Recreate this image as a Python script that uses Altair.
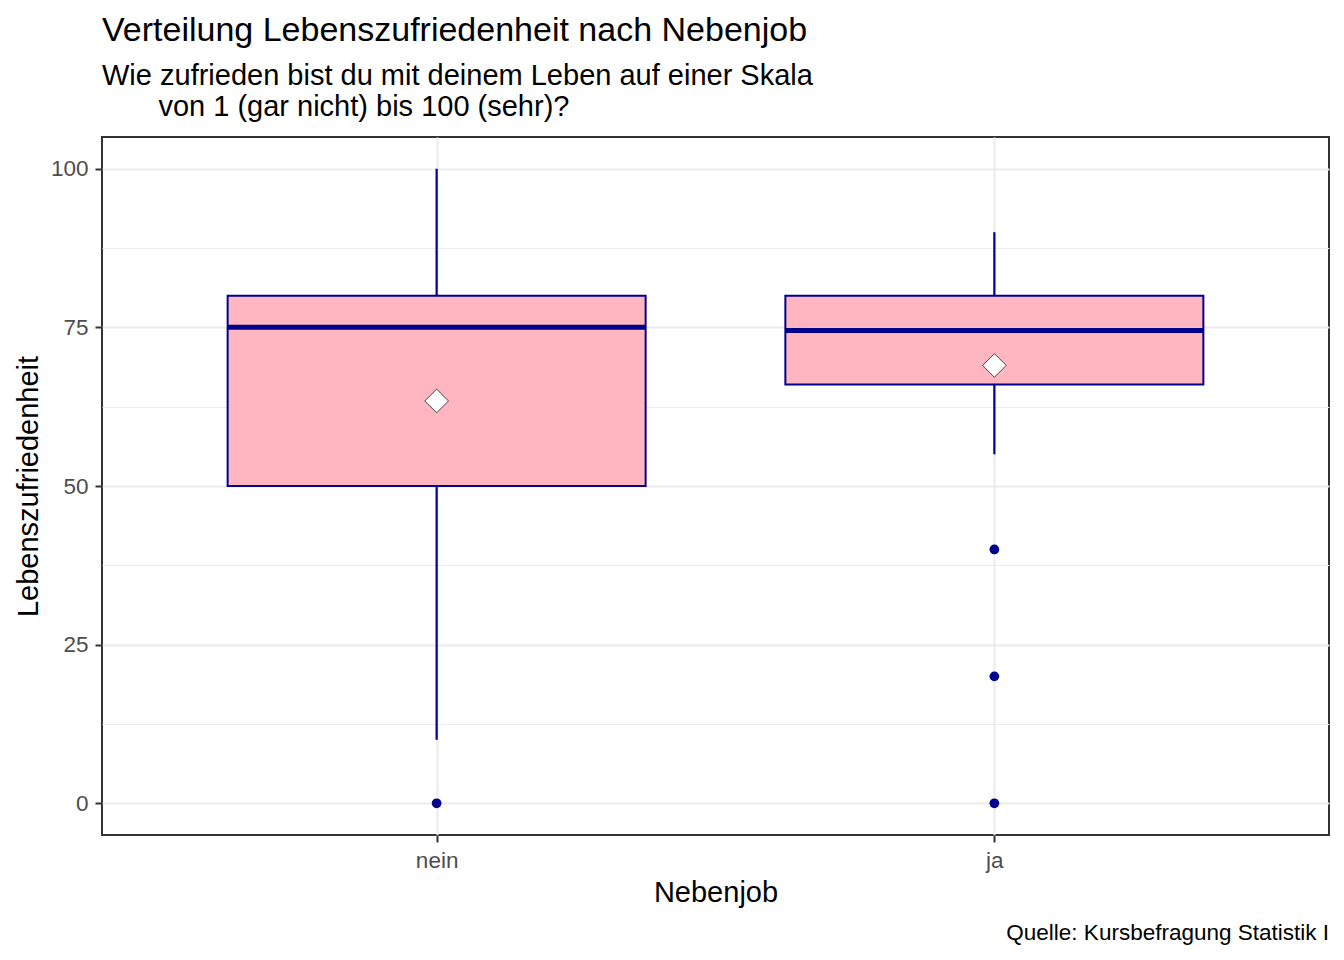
import altair as alt
import pandas as pd

# ---- data ----
groups = ["nein", "ja"]
whisker_low = [10, 55]
q1 = [50, 66]
median = [75, 74.5]
q3 = [80, 80]
whisker_high = [100, 90]
means = [63.4, 69.0]

outlier_group = ["nein", "ja", "ja", "ja"]
outlier_value = [0, 40, 20, 0]

y_ticks = [0, 12.5, 25, 37.5, 50, 62.5, 75, 87.5, 100]

title_text = "Verteilung Lebenszufriedenheit nach Nebenjob"
subtitle_lines = [
    "Wie zufrieden bist du mit deinem Leben auf einer Skala",
    "\u200b" + "\u00a0" * 7 + "von 1 (gar nicht) bis 100 (sehr)?",
]
caption_text = "Quelle: Kursbefragung Statistik I"
x_title = "Nebenjob"
y_title = "Lebenszufriedenheit"

W, H = 1227, 698
FONT = "Liberation Sans"
BLUE = "#00008B"
PINK = "#FFB6C1"

stats = pd.DataFrame({
    "Nebenjob": groups,
    "lo": whisker_low,
    "q1": q1,
    "med": median,
    "q3": q3,
    "hi": whisker_high,
    "mean": means,
})
outs = pd.DataFrame({"Nebenjob": outlier_group, "val": outlier_value})

xscale = alt.Scale(type="point", domain=groups, padding=0.6)
yscale = alt.Scale(domain=[-5, 105], nice=False, zero=False)

x_enc = alt.X(
    "Nebenjob:N",
    scale=xscale,
    sort=groups,
    title=x_title,
    axis=alt.Axis(
        labelAngle=0,
        labelFontSize=22.5,
        labelColor="#4D4D4D",
        labelFont=FONT,
        labelPadding=7,
        tickSize=7,
        tickWidth=2,
        tickColor="#333333",
        domain=False,
        grid=True,
        gridColor="#EBEBEB",
        gridWidth=2,
        titleFont=FONT,
        titleFontSize=29,
        titleFontWeight="normal",
        titleColor="#000000",
        titlePadding=7,
    ),
)

y_axis = alt.Axis(
    values=y_ticks,
    labelExpr="datum.value % 25 == 0 ? datum.label : ''",
    labelFontSize=22.5,
    labelColor="#4D4D4D",
    labelFont=FONT,
    labelPadding=7,
    tickSize=7,
    tickWidth=2,
    tickColor="#333333",
    tickOpacity=alt.expr("datum.value % 25 == 0 ? 1 : 0"),
    domain=False,
    grid=True,
    gridColor="#EBEBEB",
    gridWidth=alt.expr("datum.value % 25 == 0 ? 2 : 1"),
    titleFont=FONT,
    titleFontSize=29,
    titleFontWeight="normal",
    titleColor="#000000",
    titlePadding=7,
)

base = alt.Chart(stats)

upper_whisker = base.mark_rule(color=BLUE, strokeWidth=2.2).encode(
    x=x_enc,
    y=alt.Y("q3:Q", scale=yscale, axis=y_axis, title=y_title),
    y2="hi:Q",
)
lower_whisker = base.mark_rule(color=BLUE, strokeWidth=2.2).encode(
    x=x_enc,
    y=alt.Y("lo:Q", scale=yscale),
    y2="q1:Q",
)
box = base.mark_bar(size=418, fill=PINK, stroke=BLUE, strokeWidth=2).encode(
    x=x_enc,
    y=alt.Y("q1:Q", scale=yscale),
    y2="q3:Q",
)
med = base.mark_tick(size=418, thickness=5, color=BLUE, opacity=1).encode(
    x=x_enc,
    y=alt.Y("med:Q", scale=yscale),
)
outliers = alt.Chart(outs).mark_point(
    shape="circle", filled=True, size=95, color=BLUE, opacity=1
).encode(
    x=x_enc,
    y=alt.Y("val:Q", scale=yscale),
)
mean_pt = base.mark_point(
    shape="diamond", filled=True, size=560, fill="white", stroke="#000000",
    strokeWidth=0.7, opacity=1
).encode(
    x=x_enc,
    y=alt.Y("mean:Q", scale=yscale),
)
caption = alt.Chart(pd.DataFrame({"t": [caption_text]})).mark_text(
    align="right", baseline="alphabetic", font=FONT, fontSize=22.5, color="#000000"
).encode(
    text="t:N",
    x=alt.value(W),
    y=alt.value(H + 105),
)

chart = alt.layer(
    upper_whisker, lower_whisker, box, med, outliers, mean_pt, caption
).properties(
    width=W,
    height=H,
    padding={"left": 6, "top": 6, "right": 5, "bottom": 5},
    title=alt.TitleParams(
        text=title_text,
        subtitle=subtitle_lines,
        anchor="start",
        frame="group",
        font=FONT,
        fontSize=34,
        fontWeight="normal",
        color="#000000",
        subtitleFont=FONT,
        subtitleFontSize=29,
        subtitleColor="#000000",
        subtitleLineHeight=31,
        subtitlePadding=14,
        offset=15,
    ),
).configure_view(
    stroke="#333333", strokeWidth=2
)

chart.save("out.html", embed_options={"renderer": "svg", "actions": False})
